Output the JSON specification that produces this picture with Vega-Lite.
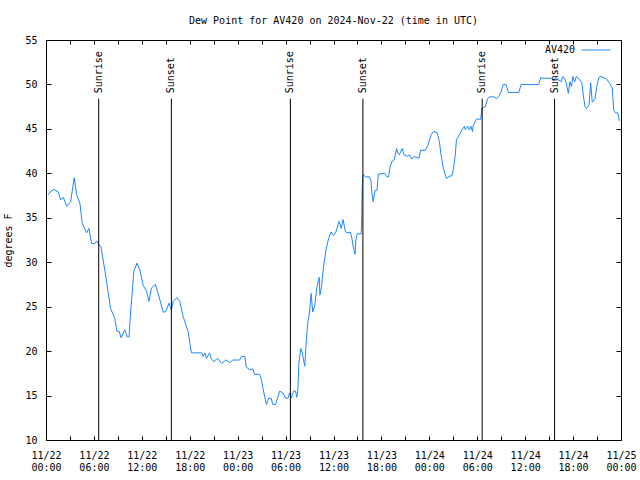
{
  "$schema": "https://vega.github.io/schema/vega-lite/v6.json",
  "width": 575,
  "height": 400,
  "autosize": {"type": "none"},
  "padding": {"left": 46, "top": 40, "right": 19, "bottom": 40},
  "background": "white",
  "config": {
    "view": {"stroke": "black", "strokeWidth": 1},
    "axis": {
      "labelFont": "DejaVu Sans Mono", "labelFontSize": 10, "labelColor": "black",
      "titleFont": "DejaVu Sans Mono", "titleFontSize": 10, "titleFontWeight": "normal", "titleColor": "black",
      "tickColor": "black", "domain": false, "grid": false
    }
  },
  "title": {
    "text": "Dew Point for AV420 on 2024-Nov-22 (time in UTC)",
    "font": "DejaVu Sans Mono", "fontSize": 10, "fontWeight": "normal", "color": "black",
    "anchor": "middle", "offset": 9
  },
  "datasets": {
    "dew": [
      {"t": "2024-11-22T00:17:00Z", "v": 37.6, "s": "AV420"}, {"t": "2024-11-22T00:30:00Z", "v": 37.9, "s": "AV420"},
      {"t": "2024-11-22T01:02:00Z", "v": 38.2, "s": "AV420"}, {"t": "2024-11-22T01:32:00Z", "v": 37.9, "s": "AV420"},
      {"t": "2024-11-22T01:50:00Z", "v": 37.0, "s": "AV420"}, {"t": "2024-11-22T02:10:00Z", "v": 37.3, "s": "AV420"},
      {"t": "2024-11-22T02:35:00Z", "v": 36.3, "s": "AV420"}, {"t": "2024-11-22T03:05:00Z", "v": 36.8, "s": "AV420"},
      {"t": "2024-11-22T03:32:00Z", "v": 39.5, "s": "AV420"}, {"t": "2024-11-22T03:50:00Z", "v": 37.6, "s": "AV420"},
      {"t": "2024-11-22T04:15:00Z", "v": 36.6, "s": "AV420"}, {"t": "2024-11-22T04:32:00Z", "v": 34.4, "s": "AV420"},
      {"t": "2024-11-22T05:05:00Z", "v": 33.3, "s": "AV420"}, {"t": "2024-11-22T05:22:00Z", "v": 33.8, "s": "AV420"},
      {"t": "2024-11-22T05:42:00Z", "v": 32.1, "s": "AV420"}, {"t": "2024-11-22T06:08:00Z", "v": 32.1, "s": "AV420"},
      {"t": "2024-11-22T06:20:00Z", "v": 32.4, "s": "AV420"}, {"t": "2024-11-22T06:40:00Z", "v": 31.9, "s": "AV420"},
      {"t": "2024-11-22T06:52:00Z", "v": 31.8, "s": "AV420"}, {"t": "2024-11-22T07:22:00Z", "v": 29.1, "s": "AV420"},
      {"t": "2024-11-22T07:48:00Z", "v": 26.5, "s": "AV420"}, {"t": "2024-11-22T08:05:00Z", "v": 24.8, "s": "AV420"},
      {"t": "2024-11-22T08:36:00Z", "v": 23.7, "s": "AV420"}, {"t": "2024-11-22T08:54:00Z", "v": 22.2, "s": "AV420"},
      {"t": "2024-11-22T09:10:00Z", "v": 22.2, "s": "AV420"}, {"t": "2024-11-22T09:24:00Z", "v": 21.5, "s": "AV420"},
      {"t": "2024-11-22T09:52:00Z", "v": 22.4, "s": "AV420"}, {"t": "2024-11-22T10:10:00Z", "v": 21.6, "s": "AV420"},
      {"t": "2024-11-22T10:24:00Z", "v": 21.6, "s": "AV420"}, {"t": "2024-11-22T10:35:00Z", "v": 24.3, "s": "AV420"},
      {"t": "2024-11-22T10:45:00Z", "v": 26.1, "s": "AV420"}, {"t": "2024-11-22T11:00:00Z", "v": 29.0, "s": "AV420"},
      {"t": "2024-11-22T11:24:00Z", "v": 29.9, "s": "AV420"}, {"t": "2024-11-22T11:45:00Z", "v": 29.1, "s": "AV420"},
      {"t": "2024-11-22T12:10:00Z", "v": 27.4, "s": "AV420"}, {"t": "2024-11-22T12:36:00Z", "v": 26.7, "s": "AV420"},
      {"t": "2024-11-22T12:54:00Z", "v": 25.6, "s": "AV420"}, {"t": "2024-11-22T13:12:00Z", "v": 27.1, "s": "AV420"},
      {"t": "2024-11-22T13:42:00Z", "v": 27.5, "s": "AV420"}, {"t": "2024-11-22T14:02:00Z", "v": 26.5, "s": "AV420"},
      {"t": "2024-11-22T14:15:00Z", "v": 25.8, "s": "AV420"}, {"t": "2024-11-22T14:40:00Z", "v": 24.4, "s": "AV420"},
      {"t": "2024-11-22T14:58:00Z", "v": 24.4, "s": "AV420"}, {"t": "2024-11-22T15:24:00Z", "v": 25.4, "s": "AV420"},
      {"t": "2024-11-22T15:42:00Z", "v": 24.6, "s": "AV420"}, {"t": "2024-11-22T15:55:00Z", "v": 25.6, "s": "AV420"},
      {"t": "2024-11-22T16:24:00Z", "v": 26.0, "s": "AV420"}, {"t": "2024-11-22T16:45:00Z", "v": 25.6, "s": "AV420"},
      {"t": "2024-11-22T17:10:00Z", "v": 23.9, "s": "AV420"}, {"t": "2024-11-22T17:48:00Z", "v": 22.2, "s": "AV420"},
      {"t": "2024-11-22T18:12:00Z", "v": 19.8, "s": "AV420"}, {"t": "2024-11-22T19:28:00Z", "v": 19.8, "s": "AV420"},
      {"t": "2024-11-22T19:40:00Z", "v": 19.4, "s": "AV420"}, {"t": "2024-11-22T19:54:00Z", "v": 19.8, "s": "AV420"},
      {"t": "2024-11-22T20:05:00Z", "v": 19.2, "s": "AV420"}, {"t": "2024-11-22T20:30:00Z", "v": 19.8, "s": "AV420"},
      {"t": "2024-11-22T20:40:00Z", "v": 19.2, "s": "AV420"}, {"t": "2024-11-22T21:00:00Z", "v": 18.8, "s": "AV420"},
      {"t": "2024-11-22T21:30:00Z", "v": 19.2, "s": "AV420"}, {"t": "2024-11-22T22:00:00Z", "v": 18.6, "s": "AV420"},
      {"t": "2024-11-22T22:30:00Z", "v": 19.0, "s": "AV420"}, {"t": "2024-11-22T23:00:00Z", "v": 18.7, "s": "AV420"},
      {"t": "2024-11-22T23:24:00Z", "v": 19.0, "s": "AV420"},
      {"t": "2024-11-23T00:15:00Z", "v": 19.0, "s": "AV420"}, {"t": "2024-11-23T00:28:00Z", "v": 19.4, "s": "AV420"},
      {"t": "2024-11-23T00:54:00Z", "v": 19.4, "s": "AV420"}, {"t": "2024-11-23T01:05:00Z", "v": 18.2, "s": "AV420"},
      {"t": "2024-11-23T01:30:00Z", "v": 17.9, "s": "AV420"}, {"t": "2024-11-23T01:54:00Z", "v": 18.0, "s": "AV420"},
      {"t": "2024-11-23T02:06:00Z", "v": 17.4, "s": "AV420"}, {"t": "2024-11-23T02:45:00Z", "v": 17.4, "s": "AV420"},
      {"t": "2024-11-23T02:58:00Z", "v": 16.8, "s": "AV420"}, {"t": "2024-11-23T03:10:00Z", "v": 15.8, "s": "AV420"},
      {"t": "2024-11-23T03:36:00Z", "v": 14.0, "s": "AV420"}, {"t": "2024-11-23T03:54:00Z", "v": 14.7, "s": "AV420"},
      {"t": "2024-11-23T04:12:00Z", "v": 14.7, "s": "AV420"}, {"t": "2024-11-23T04:24:00Z", "v": 14.0, "s": "AV420"},
      {"t": "2024-11-23T04:45:00Z", "v": 14.0, "s": "AV420"}, {"t": "2024-11-23T05:02:00Z", "v": 14.8, "s": "AV420"},
      {"t": "2024-11-23T05:15:00Z", "v": 15.5, "s": "AV420"}, {"t": "2024-11-23T05:40:00Z", "v": 15.3, "s": "AV420"},
      {"t": "2024-11-23T06:00:00Z", "v": 14.7, "s": "AV420"}, {"t": "2024-11-23T06:18:00Z", "v": 14.7, "s": "AV420"},
      {"t": "2024-11-23T06:30:00Z", "v": 15.3, "s": "AV420"}, {"t": "2024-11-23T06:42:00Z", "v": 14.7, "s": "AV420"},
      {"t": "2024-11-23T07:00:00Z", "v": 15.5, "s": "AV420"}, {"t": "2024-11-23T07:15:00Z", "v": 15.5, "s": "AV420"},
      {"t": "2024-11-23T07:24:00Z", "v": 14.8, "s": "AV420"}, {"t": "2024-11-23T07:32:00Z", "v": 15.6, "s": "AV420"},
      {"t": "2024-11-23T07:40:00Z", "v": 18.6, "s": "AV420"}, {"t": "2024-11-23T07:54:00Z", "v": 20.3, "s": "AV420"},
      {"t": "2024-11-23T08:06:00Z", "v": 19.8, "s": "AV420"}, {"t": "2024-11-23T08:15:00Z", "v": 19.0, "s": "AV420"},
      {"t": "2024-11-23T08:24:00Z", "v": 18.3, "s": "AV420"}, {"t": "2024-11-23T08:36:00Z", "v": 21.3, "s": "AV420"},
      {"t": "2024-11-23T08:48:00Z", "v": 23.3, "s": "AV420"}, {"t": "2024-11-23T09:00:00Z", "v": 24.4, "s": "AV420"},
      {"t": "2024-11-23T09:12:00Z", "v": 26.5, "s": "AV420"}, {"t": "2024-11-23T09:24:00Z", "v": 24.4, "s": "AV420"},
      {"t": "2024-11-23T09:40:00Z", "v": 25.2, "s": "AV420"}, {"t": "2024-11-23T09:54:00Z", "v": 27.1, "s": "AV420"},
      {"t": "2024-11-23T10:12:00Z", "v": 28.3, "s": "AV420"}, {"t": "2024-11-23T10:18:00Z", "v": 26.3, "s": "AV420"},
      {"t": "2024-11-23T10:30:00Z", "v": 27.3, "s": "AV420"}, {"t": "2024-11-23T10:45:00Z", "v": 29.5, "s": "AV420"},
      {"t": "2024-11-23T11:06:00Z", "v": 31.6, "s": "AV420"}, {"t": "2024-11-23T11:24:00Z", "v": 32.7, "s": "AV420"},
      {"t": "2024-11-23T11:42:00Z", "v": 33.4, "s": "AV420"}, {"t": "2024-11-23T12:00:00Z", "v": 33.0, "s": "AV420"},
      {"t": "2024-11-23T12:18:00Z", "v": 33.4, "s": "AV420"}, {"t": "2024-11-23T12:42:00Z", "v": 34.6, "s": "AV420"},
      {"t": "2024-11-23T12:58:00Z", "v": 33.8, "s": "AV420"}, {"t": "2024-11-23T13:12:00Z", "v": 34.8, "s": "AV420"},
      {"t": "2024-11-23T13:30:00Z", "v": 33.4, "s": "AV420"}, {"t": "2024-11-23T13:48:00Z", "v": 33.3, "s": "AV420"},
      {"t": "2024-11-23T14:06:00Z", "v": 33.4, "s": "AV420"}, {"t": "2024-11-23T14:18:00Z", "v": 32.7, "s": "AV420"},
      {"t": "2024-11-23T14:30:00Z", "v": 31.6, "s": "AV420"}, {"t": "2024-11-23T14:42:00Z", "v": 30.9, "s": "AV420"},
      {"t": "2024-11-23T14:48:00Z", "v": 32.5, "s": "AV420"}, {"t": "2024-11-23T14:58:00Z", "v": 33.2, "s": "AV420"},
      {"t": "2024-11-23T15:28:00Z", "v": 33.2, "s": "AV420"}, {"t": "2024-11-23T15:32:00Z", "v": 34.9, "s": "AV420"},
      {"t": "2024-11-23T15:35:00Z", "v": 38.2, "s": "AV420"}, {"t": "2024-11-23T15:42:00Z", "v": 39.9, "s": "AV420"},
      {"t": "2024-11-23T16:00:00Z", "v": 39.6, "s": "AV420"}, {"t": "2024-11-23T16:30:00Z", "v": 39.6, "s": "AV420"},
      {"t": "2024-11-23T16:42:00Z", "v": 39.1, "s": "AV420"}, {"t": "2024-11-23T16:48:00Z", "v": 37.8, "s": "AV420"},
      {"t": "2024-11-23T16:58:00Z", "v": 36.8, "s": "AV420"}, {"t": "2024-11-23T17:12:00Z", "v": 38.1, "s": "AV420"},
      {"t": "2024-11-23T17:27:00Z", "v": 38.1, "s": "AV420"}, {"t": "2024-11-23T17:36:00Z", "v": 39.9, "s": "AV420"},
      {"t": "2024-11-23T18:24:00Z", "v": 40.0, "s": "AV420"}, {"t": "2024-11-23T18:42:00Z", "v": 39.6, "s": "AV420"},
      {"t": "2024-11-23T18:54:00Z", "v": 39.6, "s": "AV420"}, {"t": "2024-11-23T19:06:00Z", "v": 40.8, "s": "AV420"},
      {"t": "2024-11-23T19:18:00Z", "v": 41.3, "s": "AV420"}, {"t": "2024-11-23T19:36:00Z", "v": 41.5, "s": "AV420"},
      {"t": "2024-11-23T19:54:00Z", "v": 42.8, "s": "AV420"}, {"t": "2024-11-23T20:06:00Z", "v": 42.2, "s": "AV420"},
      {"t": "2024-11-23T20:15:00Z", "v": 42.1, "s": "AV420"}, {"t": "2024-11-23T20:36:00Z", "v": 42.8, "s": "AV420"},
      {"t": "2024-11-23T20:48:00Z", "v": 42.1, "s": "AV420"}, {"t": "2024-11-23T21:12:00Z", "v": 41.9, "s": "AV420"},
      {"t": "2024-11-23T21:30:00Z", "v": 42.1, "s": "AV420"}, {"t": "2024-11-23T21:48:00Z", "v": 41.6, "s": "AV420"},
      {"t": "2024-11-23T22:06:00Z", "v": 41.9, "s": "AV420"}, {"t": "2024-11-23T22:42:00Z", "v": 41.7, "s": "AV420"},
      {"t": "2024-11-23T22:54:00Z", "v": 42.6, "s": "AV420"}, {"t": "2024-11-23T23:30:00Z", "v": 42.6, "s": "AV420"},
      {"t": "2024-11-23T23:48:00Z", "v": 43.1, "s": "AV420"},
      {"t": "2024-11-24T00:12:00Z", "v": 44.3, "s": "AV420"}, {"t": "2024-11-24T00:30:00Z", "v": 44.7, "s": "AV420"},
      {"t": "2024-11-24T00:58:00Z", "v": 44.6, "s": "AV420"}, {"t": "2024-11-24T01:15:00Z", "v": 43.6, "s": "AV420"},
      {"t": "2024-11-24T01:28:00Z", "v": 42.1, "s": "AV420"}, {"t": "2024-11-24T01:45:00Z", "v": 40.6, "s": "AV420"},
      {"t": "2024-11-24T02:00:00Z", "v": 39.8, "s": "AV420"}, {"t": "2024-11-24T02:12:00Z", "v": 39.4, "s": "AV420"},
      {"t": "2024-11-24T02:30:00Z", "v": 39.7, "s": "AV420"}, {"t": "2024-11-24T02:48:00Z", "v": 39.7, "s": "AV420"},
      {"t": "2024-11-24T03:00:00Z", "v": 40.4, "s": "AV420"}, {"t": "2024-11-24T03:15:00Z", "v": 42.1, "s": "AV420"},
      {"t": "2024-11-24T03:24:00Z", "v": 43.8, "s": "AV420"}, {"t": "2024-11-24T03:45:00Z", "v": 44.3, "s": "AV420"},
      {"t": "2024-11-24T04:06:00Z", "v": 44.9, "s": "AV420"}, {"t": "2024-11-24T04:24:00Z", "v": 45.3, "s": "AV420"},
      {"t": "2024-11-24T04:30:00Z", "v": 44.9, "s": "AV420"}, {"t": "2024-11-24T04:48:00Z", "v": 45.3, "s": "AV420"},
      {"t": "2024-11-24T05:00:00Z", "v": 44.9, "s": "AV420"}, {"t": "2024-11-24T05:12:00Z", "v": 45.3, "s": "AV420"},
      {"t": "2024-11-24T05:24:00Z", "v": 44.7, "s": "AV420"}, {"t": "2024-11-24T05:30:00Z", "v": 45.4, "s": "AV420"},
      {"t": "2024-11-24T05:54:00Z", "v": 46.1, "s": "AV420"}, {"t": "2024-11-24T06:27:00Z", "v": 46.1, "s": "AV420"},
      {"t": "2024-11-24T06:33:00Z", "v": 47.3, "s": "AV420"}, {"t": "2024-11-24T07:00:00Z", "v": 47.5, "s": "AV420"},
      {"t": "2024-11-24T07:18:00Z", "v": 48.4, "s": "AV420"}, {"t": "2024-11-24T07:30:00Z", "v": 48.6, "s": "AV420"},
      {"t": "2024-11-24T08:06:00Z", "v": 48.6, "s": "AV420"}, {"t": "2024-11-24T08:24:00Z", "v": 48.4, "s": "AV420"},
      {"t": "2024-11-24T08:45:00Z", "v": 48.7, "s": "AV420"}, {"t": "2024-11-24T09:00:00Z", "v": 49.2, "s": "AV420"},
      {"t": "2024-11-24T09:15:00Z", "v": 50.0, "s": "AV420"}, {"t": "2024-11-24T09:36:00Z", "v": 50.0, "s": "AV420"},
      {"t": "2024-11-24T09:54:00Z", "v": 49.1, "s": "AV420"}, {"t": "2024-11-24T11:12:00Z", "v": 49.1, "s": "AV420"},
      {"t": "2024-11-24T11:30:00Z", "v": 50.0, "s": "AV420"}, {"t": "2024-11-24T13:42:00Z", "v": 50.0, "s": "AV420"},
      {"t": "2024-11-24T13:58:00Z", "v": 50.8, "s": "AV420"}, {"t": "2024-11-24T14:06:00Z", "v": 50.7, "s": "AV420"},
      {"t": "2024-11-24T15:18:00Z", "v": 50.7, "s": "AV420"}, {"t": "2024-11-24T15:36:00Z", "v": 50.4, "s": "AV420"},
      {"t": "2024-11-24T15:48:00Z", "v": 50.8, "s": "AV420"}, {"t": "2024-11-24T16:12:00Z", "v": 50.5, "s": "AV420"},
      {"t": "2024-11-24T16:30:00Z", "v": 50.3, "s": "AV420"}, {"t": "2024-11-24T16:42:00Z", "v": 50.9, "s": "AV420"},
      {"t": "2024-11-24T17:00:00Z", "v": 50.6, "s": "AV420"}, {"t": "2024-11-24T17:12:00Z", "v": 49.9, "s": "AV420"},
      {"t": "2024-11-24T17:24:00Z", "v": 49.0, "s": "AV420"}, {"t": "2024-11-24T17:36:00Z", "v": 50.3, "s": "AV420"},
      {"t": "2024-11-24T17:48:00Z", "v": 49.75, "s": "AV420"}, {"t": "2024-11-24T17:58:00Z", "v": 50.9, "s": "AV420"},
      {"t": "2024-11-24T18:12:00Z", "v": 50.3, "s": "AV420"}, {"t": "2024-11-24T18:24:00Z", "v": 50.9, "s": "AV420"},
      {"t": "2024-11-24T18:45:00Z", "v": 50.6, "s": "AV420"}, {"t": "2024-11-24T19:06:00Z", "v": 50.2, "s": "AV420"},
      {"t": "2024-11-24T19:18:00Z", "v": 48.6, "s": "AV420"}, {"t": "2024-11-24T19:30:00Z", "v": 47.5, "s": "AV420"},
      {"t": "2024-11-24T19:42:00Z", "v": 47.3, "s": "AV420"}, {"t": "2024-11-24T20:00:00Z", "v": 47.7, "s": "AV420"},
      {"t": "2024-11-24T20:12:00Z", "v": 50.2, "s": "AV420"}, {"t": "2024-11-24T20:24:00Z", "v": 48.0, "s": "AV420"},
      {"t": "2024-11-24T20:45:00Z", "v": 48.4, "s": "AV420"}, {"t": "2024-11-24T20:58:00Z", "v": 49.8, "s": "AV420"},
      {"t": "2024-11-24T21:15:00Z", "v": 50.8, "s": "AV420"}, {"t": "2024-11-24T21:30:00Z", "v": 50.9, "s": "AV420"},
      {"t": "2024-11-24T22:12:00Z", "v": 50.6, "s": "AV420"}, {"t": "2024-11-24T22:36:00Z", "v": 50.1, "s": "AV420"},
      {"t": "2024-11-24T22:54:00Z", "v": 49.6, "s": "AV420"}, {"t": "2024-11-24T23:06:00Z", "v": 47.1, "s": "AV420"},
      {"t": "2024-11-24T23:18:00Z", "v": 46.8, "s": "AV420"}, {"t": "2024-11-24T23:36:00Z", "v": 46.8, "s": "AV420"},
      {"t": "2024-11-24T23:48:00Z", "v": 45.9, "s": "AV420"}
    ],
    "sun": [
      {"t": "2024-11-22T06:36:00Z", "label": "Sunrise"},
      {"t": "2024-11-22T15:42:00Z", "label": "Sunset"},
      {"t": "2024-11-23T06:36:00Z", "label": "Sunrise"},
      {"t": "2024-11-23T15:41:00Z", "label": "Sunset"},
      {"t": "2024-11-24T06:37:00Z", "label": "Sunrise"},
      {"t": "2024-11-24T15:41:00Z", "label": "Sunset"}
    ]
  },
  "layer": [
    {
      "data": {"name": "dew"},
      "mark": {"type": "line", "strokeWidth": 1},
      "encoding": {
        "x": {
          "field": "t", "type": "temporal",
          "scale": {"type": "utc", "domain": [
            {"year": 2024, "month": 11, "date": 22, "utc": true},
            {"year": 2024, "month": 11, "date": 25, "utc": true}
          ]},
          "axis": {
            "orient": "bottom", "title": null, "tickCount": 24, "tickSize": -4,
            "labelExpr": "utchours(datum.value) % 6 == 0 ? [utcFormat(datum.value, '%m/%d'), utcFormat(datum.value, '%H:%M')] : ''",
            "labelBaseline": "top", "labelLineHeight": 12, "labelPadding": 14,
            "labelFlush": false, "labelOverlap": false
          }
        },
        "y": {
          "field": "v", "type": "quantitative",
          "scale": {"domain": [10, 55], "nice": false, "zero": false},
          "axis": {
            "orient": "left", "title": "degrees F",
            "values": [10, 15, 20, 25, 30, 35, 40, 45, 50, 55],
            "tickSize": -5, "labelPadding": 14, "titlePadding": 11
          }
        },
        "color": {
          "field": "s", "type": "nominal",
          "scale": {"range": ["#1c86ff"]},
          "legend": {
            "orient": "none", "legendX": 535, "legendY": -5, "title": null,
            "symbolType": "stroke", "symbolSize": 841, "symbolStrokeWidth": 1,
            "labelAlign": "right", "labelOffset": -36, "padding": 0,
            "labelFont": "DejaVu Sans Mono", "labelFontSize": 10, "labelColor": "black"
          }
        }
      }
    },
    {
      "data": {"name": "sun"},
      "mark": {"type": "rule", "color": "black", "strokeWidth": 1},
      "encoding": {
        "x": {
          "field": "t", "type": "temporal",
          "axis": {"orient": "top", "title": null, "labels": false, "tickCount": 24, "tickSize": -4}
        },
        "y": {
          "datum": 10, "type": "quantitative",
          "axis": {"orient": "right", "title": null, "labels": false, "values": [10, 15, 20, 25, 30, 35, 40, 45, 50, 55], "tickSize": -5}
        },
        "y2": {"datum": 48.4}
      }
    },
    {
      "data": {"name": "sun"},
      "mark": {"type": "text", "angle": 270, "align": "left", "baseline": "middle", "font": "DejaVu Sans Mono", "fontSize": 10, "color": "black"},
      "encoding": {
        "x": {"field": "t", "type": "temporal", "axis": null},
        "y": {"datum": 49, "type": "quantitative", "axis": null},
        "text": {"field": "label"}
      }
    }
  ],
  "resolve": {"axis": {"x": "independent", "y": "independent"}}
}
